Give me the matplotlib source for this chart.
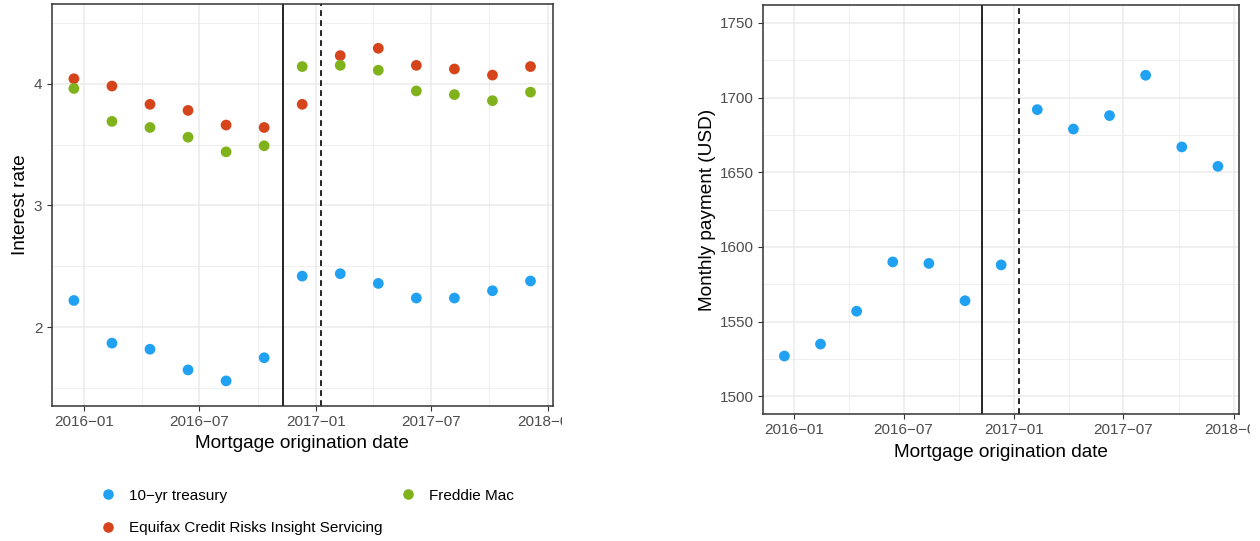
import pandas as pd
import matplotlib
matplotlib.use("Agg")
import matplotlib.pyplot as plt
import matplotlib.dates as mdates
from matplotlib.lines import Line2D
from matplotlib.transforms import Bbox

plt.rcParams['font.family'] = ['Liberation Sans', 'DejaVu Sans']

# Mid-points of the 60-day origination windows
dates = pd.to_datetime([
    "2015-12-16", "2016-02-14", "2016-04-14", "2016-06-13", "2016-08-12",
    "2016-10-11", "2016-12-10", "2017-02-08", "2017-04-09", "2017-06-08",
    "2017-08-07", "2017-10-06", "2017-12-05",
])

treasury = [2.22, 1.87, 1.82, 1.65, 1.56, 1.75, 2.42, 2.44, 2.36, 2.24, 2.24, 2.30, 2.38]
equifax = [4.04, 3.98, 3.83, 3.78, 3.66, 3.64, 3.83, 4.23, 4.29, 4.15, 4.12, 4.07, 4.14]
freddie = [3.96, 3.69, 3.64, 3.56, 3.44, 3.49, 4.14, 4.15, 4.11, 3.94, 3.91, 3.86, 3.93]

payment = [1527, 1535, 1557, 1590, 1589, 1564, 1588, 1692, 1679, 1688, 1715, 1667, 1654]

series_labels = ["10\u2212yr treasury", "Equifax Credit Risks Insight Servicing", "Freddie Mac"]
series_colors = ["#21A1F1", "#D5441B", "#80B31B"]

election = pd.Timestamp("2016-11-09")
rule_change = pd.Timestamp("2017-01-08")

major_dates = pd.to_datetime(["2016-01-01", "2016-07-01", "2017-01-01", "2017-07-01", "2018-01-01"])
minor_dates = pd.to_datetime(["2016-04-01", "2016-10-01", "2017-04-01", "2017-10-01"])
xlim = (pd.Timestamp("2015-11-11"), pd.Timestamp("2018-01-09"))

W, H = 1260, 541
fig = plt.figure(figsize=(W / 100, H / 100), dpi=100)


def px_axes(x0, y0, x1, y1):
    return fig.add_axes([x0 / W, 1 - y1 / H, (x1 - x0) / W, (y1 - y0) / H])


def style_panel(ax, yticks, yminor, ylim):
    ax.set_xlim(mdates.date2num(xlim[0]), mdates.date2num(xlim[1]))
    ax.set_ylim(*ylim)
    ax.set_xticks(mdates.date2num(major_dates))
    ax.set_xticklabels([d.strftime("%Y\u2212%m") for d in major_dates])
    ax.set_xticks(mdates.date2num(minor_dates), minor=True)
    ax.set_yticks(yticks)
    ax.set_yticks(yminor, minor=True)
    ax.grid(True, which="major", color="#EBEBEB", lw=1.1, zorder=0)
    ax.grid(True, which="minor", color="#EBEBEB", lw=0.55, zorder=0)
    ax.set_axisbelow(True)
    ax.tick_params(which="major", length=3.3, width=0.8, color="#333333",
                   labelsize=11, labelcolor="#4D4D4D")
    ax.tick_params(axis="x", pad=3)
    ax.tick_params(axis="y", pad=3.5)
    ax.tick_params(which="minor", length=0)
    for sp in ax.spines.values():
        sp.set_color("#333333")
        sp.set_linewidth(1.1)
    ax.axvline(mdates.date2num(election), color="black", lw=1.2, zorder=2)
    ax.axvline(mdates.date2num(rule_change), color="black", lw=1.2,
               linestyle=(0, (3.5, 2.5)), zorder=2)


# Left panel: interest rates
ax1 = px_axes(51.7, 4.3, 552.7, 406)
for vals, lab, col in zip([treasury, equifax, freddie], series_labels, series_colors):
    ax1.scatter(mdates.date2num(dates), vals, s=60, color=col, edgecolors="none", zorder=3, label=lab)
style_panel(ax1, [2, 3, 4], [1.5, 2.5, 3.5, 4.5], (1.354, 4.651))
ax1.set_xlabel("Mortgage origination date", fontsize=13.7)
ax1.set_ylabel("Interest rate", fontsize=13.7)
ax1.xaxis.set_label_coords(0.5, -0.073)
ax1.yaxis.set_label_coords(-0.046, 0.5)

# Right panel: monthly payment
ax2 = px_axes(763.3, 4.7, 1239, 414.3)
ax2.scatter(mdates.date2num(dates), payment, s=60, color=series_colors[0], edgecolors="none", zorder=3)
style_panel(ax2, [1500, 1550, 1600, 1650, 1700, 1750],
            [1525, 1575, 1625, 1675, 1725], (1487.97, 1762.25))
ax2.set_xlabel("Mortgage origination date", fontsize=13.7)
ax2.set_ylabel("Monthly payment (USD)", fontsize=13.7)
ax2.xaxis.set_label_coords(0.5, -0.073)
ax2.yaxis.set_label_coords(-0.100, 0.5)

handles = [Line2D([], [], marker="o", linestyle="none", markersize=7.6,
                  markerfacecolor=c, markeredgecolor="none") for c in series_colors]
fig.legend(handles, series_labels, loc="upper left", bbox_to_anchor=(0.0797, 0.0970),
           ncol=2, frameon=False, fontsize=11, borderpad=0, borderaxespad=0,
           handlelength=1.0, handletextpad=0.87, columnspacing=1.19, labelspacing=1.24)

# The last date label runs past each panel's edge and is cut off there
fig.canvas.draw()
for ax, right in [(ax1, 561.7), (ax2, 1250)]:
    clip = Bbox([[0, 0], [right, H]])
    for lbl in ax.get_xticklabels():
        lbl.set_clip_box(clip)
        lbl.set_clip_on(True)

fig.savefig("out.png", dpi=100)
